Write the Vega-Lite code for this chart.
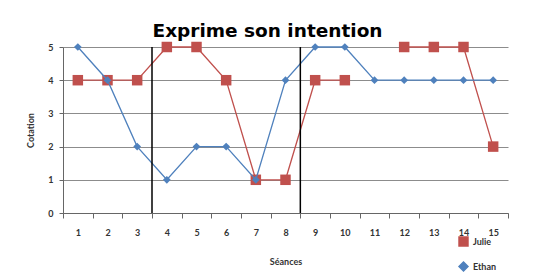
{
  "$schema": "https://vega.github.io/schema/vega-lite/v6.json",
  "autosize": {"type": "none"},
  "width": 445,
  "height": 166,
  "padding": {"left": 63, "top": 47, "right": 45, "bottom": 60},
  "background": "white",
  "title": {"text": "Exprime son intention", "font": "DejaVu Sans", "fontSize": 18.5, "fontWeight": "bold", "color": "#000000", "offset": 1, "anchor": "middle", "dx": -18},
  "config": {"view": {"stroke": null}},
  "datasets": {
    "scores": [
      {"seance": 1, "eleve": "Julie", "cotation": 4},
      {"seance": 2, "eleve": "Julie", "cotation": 4},
      {"seance": 3, "eleve": "Julie", "cotation": 4},
      {"seance": 4, "eleve": "Julie", "cotation": 5},
      {"seance": 5, "eleve": "Julie", "cotation": 5},
      {"seance": 6, "eleve": "Julie", "cotation": 4},
      {"seance": 7, "eleve": "Julie", "cotation": 1},
      {"seance": 8, "eleve": "Julie", "cotation": 1},
      {"seance": 9, "eleve": "Julie", "cotation": 4},
      {"seance": 10, "eleve": "Julie", "cotation": 4},
      {"seance": 11, "eleve": "Julie", "cotation": null},
      {"seance": 12, "eleve": "Julie", "cotation": 5},
      {"seance": 13, "eleve": "Julie", "cotation": 5},
      {"seance": 14, "eleve": "Julie", "cotation": 5},
      {"seance": 15, "eleve": "Julie", "cotation": 2},
      {"seance": 1, "eleve": "Ethan", "cotation": 5},
      {"seance": 2, "eleve": "Ethan", "cotation": 4},
      {"seance": 3, "eleve": "Ethan", "cotation": 2},
      {"seance": 4, "eleve": "Ethan", "cotation": 1},
      {"seance": 5, "eleve": "Ethan", "cotation": 2},
      {"seance": 6, "eleve": "Ethan", "cotation": 2},
      {"seance": 7, "eleve": "Ethan", "cotation": 1},
      {"seance": 8, "eleve": "Ethan", "cotation": 4},
      {"seance": 9, "eleve": "Ethan", "cotation": 5},
      {"seance": 10, "eleve": "Ethan", "cotation": 5},
      {"seance": 11, "eleve": "Ethan", "cotation": 4},
      {"seance": 12, "eleve": "Ethan", "cotation": 4},
      {"seance": 13, "eleve": "Ethan", "cotation": 4},
      {"seance": 14, "eleve": "Ethan", "cotation": 4},
      {"seance": 15, "eleve": "Ethan", "cotation": 4}
    ],
    "separateurs": [{"seance": 4}, {"seance": 9}]
  },
  "data": {"name": "scores"},
  "encoding": {
    "x": {"field": "seance", "type": "ordinal",
      "scale": {"type": "band", "domain": [1,2,3,4,5,6,7,8,9,10,11,12,13,14,15], "paddingInner": 0, "paddingOuter": 0},
      "axis": {"title": "Séances", "titleFont": "Lato", "titleFontSize": 9, "titleFontWeight": "bold", "titleColor": "#333", "titlePadding": 20,
        "labelAngle": 0, "labelFont": "Lato", "labelFontSize": 9, "labelFontWeight": "bold", "labelColor": "#333", "labelPadding": 10,
        "tickBand": "extent", "tickSize": 5, "tickColor": "#666", "domainColor": "#666", "grid": false}},
    "y": {"field": "cotation", "type": "quantitative",
      "scale": {"domain": [0, 5], "nice": false},
      "axis": {"title": "Cotation", "titleFont": "Lato", "titleFontSize": 9, "titleFontWeight": "bold", "titleColor": "#333", "titlePadding": 12,
        "values": [0,1,2,3,4,5], "labelFont": "Lato", "labelFontSize": 9, "labelFontWeight": "bold", "labelColor": "#333", "labelPadding": 6,
        "tickSize": 4, "tickColor": "#666", "domainColor": "#666", "grid": true, "gridColor": "#8c8c8c", "gridWidth": 1}},
    "color": {"field": "eleve", "type": "nominal", "scale": {"domain": ["Julie", "Ethan"], "range": ["#C0504D", "#4F81BD"]},
      "legend": {"orient": "none", "legendX": 395, "legendY": 189, "title": null, "labelFont": "Lato", "labelFontSize": 9, "labelFontWeight": "bold", "labelColor": "#333", "symbolSize": 80, "rowPadding": 10}}
  },
  "layer": [
    {
      "transform": [{"filter": "datum.eleve === 'Julie'"}],
      "mark": {"type": "line", "strokeWidth": 1.3, "invalid": "break-paths-show-domains"}
    },
    {
      "transform": [{"filter": "datum.eleve === 'Julie' && datum.cotation != null"}],
      "mark": {"type": "point", "filled": true, "opacity": 1, "size": 110},
      "encoding": {
        "shape": {"field": "eleve", "type": "nominal", "scale": {"domain": ["Julie", "Ethan"], "range": ["square", "diamond"]},
          "legend": {"orient": "none", "legendX": 395, "legendY": 189, "title": null, "labelFont": "Lato", "labelFontSize": 9, "labelFontWeight": "bold", "labelColor": "#333", "symbolSize": 80, "rowPadding": 10}}
      }
    },
    {
      "transform": [{"filter": "datum.eleve === 'Ethan'"}],
      "mark": {"type": "line", "strokeWidth": 1.3}
    },
    {
      "transform": [{"filter": "datum.eleve === 'Ethan'"}],
      "mark": {"type": "point", "filled": true, "opacity": 1, "size": 60},
      "encoding": {
        "shape": {"field": "eleve", "type": "nominal"}
      }
    },
    {
      "data": {"name": "separateurs"},
      "mark": {"type": "rule", "color": "#000000", "strokeWidth": 1.5},
      "encoding": {
        "x": {"field": "seance", "type": "ordinal", "bandPosition": 0},
        "y": null,
        "color": null
      }
    }
  ]
}
